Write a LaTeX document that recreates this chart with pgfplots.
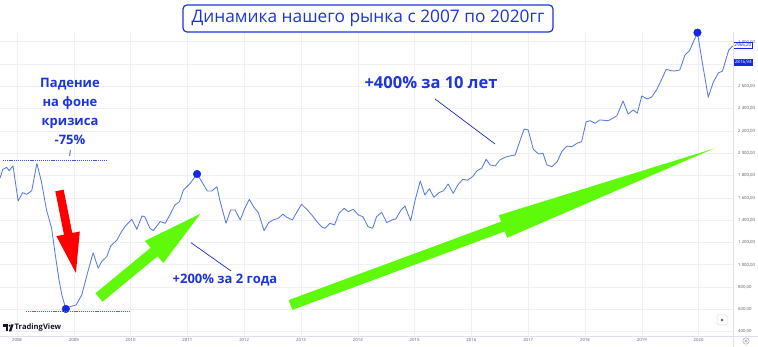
\documentclass[border=0pt]{standalone}
\usepackage{fontspec}
\setmainfont{Open Sans}
\usepackage{pgfplots}
\pgfplotsset{compat=1.18}
\usetikzlibrary{arrows.meta}
\definecolor{linecol}{RGB}{88,122,226}
\definecolor{dotcol}{RGB}{20,40,225}
\definecolor{txtblue}{RGB}{28,52,220}
\definecolor{arrgreen}{RGB}{95,250,10}
\definecolor{gridcol}{RGB}{238,240,245}
\definecolor{axcol}{RGB}{222,225,233}
\definecolor{ticktxt}{RGB}{95,95,105}
\definecolor{tvblack}{RGB}{19,23,34}
\definecolor{reddash}{RGB}{235,60,60}
\definecolor{bluedash}{RGB}{60,85,225}
\begin{document}
\begin{tikzpicture}[x=1pt,y=1pt]
\begin{axis}[
  at={(0pt,11pt)}, anchor=south west,
  scale only axis, width=733pt, height=303.7pt,
  xmin=2007.7007, xmax=2020.6056, ymin=361.4, ymax=3085,
  axis line style={draw=none},
  major tick length=0pt,
  grid=major, major grid style={draw=gridcol, line width=0.6pt},
  xtick={2008,2009,2010,2011,2012,2013,2014,2015,2016,2017,2018,2019,2020},
  xticklabels={2008,2009,2010,2011,2012,2013,2014,2015,2016,2017,2018,2019,2020},
  ytick={400,600,800,1000,1200,1400,1600,1800,2000,2200,2400,2600,2800,3000},
  yticklabels={{400,00},{600,00},{800,00},{1 000,00},{1 200,00},{1 400,00},{1 600,00},{1 800,00},{2 000,00},{2 200,00},{2 400,00},{2 600,00},{},{3 000,00}},
  yticklabel pos=right,
  ticklabel style={font=\fontsize{4.3}{5}\selectfont, text=ticktxt},
  yticklabel style={anchor=west, inner sep=0pt, xshift=5pt},
  xticklabel style={anchor=north, inner sep=0pt, yshift=-2.2pt},
  clip=false,
]
\addplot[linecol, line width=0.85pt, line join=round] coordinates {
(2007.70,1776) (2007.75,1856) (2007.82,1874) (2007.86,1844) (2007.93,1886)
(2008.02,1572) (2008.10,1647) (2008.17,1632) (2008.26,1665) (2008.35,1910)
(2008.43,1745) (2008.52,1491) (2008.61,1327) (2008.67,1103) (2008.74,864)
(2008.79,729) (2008.86,604) (2008.93,624) (2009.04,639) (2009.14,729)
(2009.24,924) (2009.34,1108) (2009.43,969) (2009.49,1028) (2009.58,1073)
(2009.65,1169) (2009.76,1222) (2009.84,1297) (2009.90,1342) (2010.02,1408)
(2010.11,1318) (2010.20,1438) (2010.25,1431) (2010.34,1327) (2010.40,1306)
(2010.52,1387) (2010.61,1372) (2010.69,1447) (2010.78,1536) (2010.86,1566)
(2010.93,1671) (2011.05,1731) (2011.17,1814) (2011.27,1731) (2011.35,1662)
(2011.43,1662) (2011.52,1700) (2011.57,1581) (2011.68,1372) (2011.76,1491)
(2011.84,1491) (2011.93,1402) (2012.01,1507) (2012.09,1587) (2012.17,1516)
(2012.25,1467) (2012.35,1306) (2012.43,1378) (2012.51,1402) (2012.60,1417)
(2012.68,1453) (2012.75,1426) (2012.85,1402) (2012.93,1476) (2013.01,1543)
(2013.10,1498) (2013.19,1447) (2013.28,1387) (2013.36,1342) (2013.42,1327)
(2013.51,1372) (2013.59,1357) (2013.67,1462) (2013.76,1507) (2013.83,1476)
(2013.92,1498) (2014.01,1447) (2014.09,1431) (2014.18,1342) (2014.26,1327)
(2014.33,1431) (2014.42,1471) (2014.51,1378) (2014.60,1402) (2014.67,1411)
(2014.76,1491) (2014.83,1527) (2014.93,1395) (2015.01,1581) (2015.10,1752)
(2015.18,1626) (2015.26,1682) (2015.34,1605) (2015.43,1647) (2015.51,1665)
(2015.59,1725) (2015.68,1641) (2015.76,1716) (2015.85,1767) (2015.93,1758)
(2016.02,1790) (2016.10,1844) (2016.18,1865) (2016.26,1946) (2016.33,1895)
(2016.42,1886) (2016.50,1940) (2016.59,1964) (2016.68,1976) (2016.77,1985)
(2016.86,2119) (2016.93,2218) (2017.00,2209) (2017.09,2036) (2017.18,1994)
(2017.26,2000) (2017.33,1895) (2017.42,1880) (2017.51,1925) (2017.59,2014)
(2017.68,2065) (2017.77,2059) (2017.86,2090) (2017.94,2104) (2018.02,2283)
(2018.09,2292) (2018.18,2269) (2018.26,2299) (2018.41,2292) (2018.56,2335)
(2018.67,2469) (2018.76,2352) (2018.85,2388) (2018.92,2359) (2019.00,2514)
(2019.09,2487) (2019.17,2502) (2019.26,2568) (2019.35,2664) (2019.43,2753)
(2019.51,2741) (2019.58,2738) (2019.67,2747) (2019.76,2882) (2019.84,2920)
(2019.91,3001) (2019.98,3082) (2020.07,2800) (2020.17,2502) (2020.26,2640)
(2020.35,2722) (2020.42,2736) (2020.53,2925) (2020.60,2962)
};
\addplot[only marks, mark=*, mark size=3.8pt, color=dotcol] coordinates {
(2008.86,604) (2011.17,1814) (2019.98,3082)
};
\node[anchor=west, draw=dotcol, fill=white, text=dotcol, line width=0.4pt,
      inner xsep=1.2pt, inner ysep=1pt, font=\fontsize{4.6}{5}\selectfont]
      at (axis cs:2020.6056,2966.2) {2966,20};
\node[anchor=west, fill=dotcol, text=white, inner xsep=1.6pt, inner ysep=1.4pt,
      font=\fontsize{4.6}{5}\selectfont]
      at (axis cs:2020.6056,2816.94) {2816,94};
\end{axis}
% axis frame lines
\draw[axcol, line width=0.6pt] (0,11) -- (758,11);
\draw[axcol, line width=0.6pt] (733,0) -- (733,315);
% dotted reference lines
\draw[bluedash, line width=0.7pt, dash pattern=on 1.2pt off 0.9pt] (3,187) -- (107,187);
\draw[reddash, line width=0.7pt, dash pattern=on 1.2pt off 0.9pt] (26,36) -- (130,36);
\draw[txtblue, line width=0.7pt] (70.3,197) -- (69.7,191);
% arrows
\draw[red, line width=8.5pt, -{Triangle[length=43pt,width=21pt]}] (59.5,156.5) -- (76.5,71);
\draw[arrgreen, line width=11pt, -{Triangle[length=66pt,width=25pt]}] (99,49.5) -- (205,137);
\fill[arrgreen] (288.68,46.92) -- (501.13,125.42) -- (498.79,131.76) -- (714,198.5)
  -- (507.11,109.24) -- (504.77,115.58) -- (292.32,37.08) -- cycle;
% pointer lines
\draw[txtblue!85!black, line width=0.7pt] (191,104.3) -- (231,76);
\draw[txtblue!85!black, line width=0.7pt] (435,248) -- (495,203);
% texts
\node[text=txtblue, font=\bfseries\fontsize{13}{19}\selectfont, align=center] at (70,235.5)
  {Падение\\на фоне\\кризиса\\-75\%};
\node[text=txtblue, font=\bfseries\fontsize{13}{15}\selectfont] at (225,67) {+200\% за 2 года};
\node[text=txtblue, font=\bfseries\fontsize{16.5}{18}\selectfont] at (431,264) {+400\% за 10 лет};
% title
\node[draw=txtblue, line width=1.2pt, rounded corners=4pt, fill=white,
      minimum width=370pt, minimum height=27pt, inner sep=0pt, text=txtblue,
      font=\fontsize{17.3}{19}\selectfont] at (368,328.5)
  {Динамика нашего рынка с 2007 по 2020гг};
% TradingView logo
\fill[tvblack] (3,22.5) rectangle (8,20.3);
\fill[tvblack] (5.6,20.3) rectangle (8,15.5);
\fill[tvblack] (9.6,21.3) circle (1.1);
\fill[tvblack] (8.8,15.5) -- (11.2,15.5) -- (13.6,22.5) -- (11.2,22.5) -- cycle;
\node[anchor=west, inner sep=0pt, text=tvblack, font=\bfseries\fontsize{7.6}{8}\selectfont] at (14.5,19) {TradingView};
% small icons
\draw[gray!30, line width=0.5pt, rounded corners=1.5pt] (717,22) rectangle (727,32);
\fill[gray!70!black] (722,27) circle (1.3);
\draw[gray!70, line width=0.5pt] (746,6) circle (3.2);
\draw[gray!70, line width=0.5pt] (746,6) circle (1.2);
\pgfresetboundingbox
\path (0,0) rectangle (758,347);
\end{tikzpicture}
\end{document}
